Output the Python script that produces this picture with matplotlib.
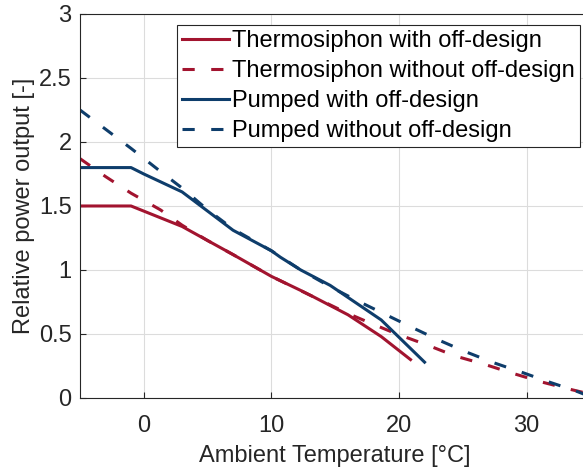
import matplotlib
matplotlib.use('Agg')
import matplotlib.pyplot as plt
import numpy as np

# ambient temperature [degC] and relative power output [-]
t_thermo_off = [-5, -1, 0, 3, 5, 7, 10, 12.3, 13.3, 16, 18.6, 20.9]
p_thermo_off = [1.5, 1.5, 1.46, 1.34, 1.23, 1.12, 0.95, 0.84, 0.79, 0.65, 0.48, 0.30]

t_thermo = [-5, -3, -1, 1.3, 3, 5, 7, 10, 13.3, 16, 17.5, 19.7, 22.2, 24.4, 26.7, 28.9, 31.1, 33.4, 35]
p_thermo = [1.87, 1.73, 1.60, 1.47, 1.35, 1.23, 1.12, 0.95, 0.79, 0.66, 0.596, 0.505, 0.414, 0.328, 0.263, 0.193, 0.127, 0.068, 0.03]

t_pump_off = [-5, -1, 0, 3, 7, 10, 10.7, 12.3, 14.6, 18.6, 22]
p_pump_off = [1.8, 1.8, 1.75, 1.61, 1.31, 1.15, 1.10, 1.0, 0.88, 0.61, 0.28]

t_pump = [-5, -3, -1, 1.3, 3, 5, 7, 10, 12.3, 14.6, 16.6, 21, 23.1, 25.2, 27.4, 29.7, 31.9, 33.8, 35]
p_pump = [2.25, 2.10, 1.95, 1.77, 1.64, 1.47, 1.32, 1.15, 1.0, 0.87, 0.766, 0.552, 0.453, 0.362, 0.276, 0.198, 0.12, 0.057, 0.01]

RED = '#A2142F'
BLUE = '#0E3D6B'
DASH = (4.0, 5.4)

plt.rcParams['font.family'] = ['Liberation Sans', 'DejaVu Sans']

fig = plt.figure(figsize=(5.83, 4.69), dpi=100)
ax = fig.add_axes([0.1372, 0.1514, 0.8756, 0.8188])

lw = 2.2
ax.plot(t_thermo_off, p_thermo_off, color=RED, lw=lw, label='Thermosiphon with off-design')
ax.plot(t_thermo, p_thermo, color=RED, lw=lw, dashes=DASH, label='Thermosiphon without off-design')
ax.plot(t_pump_off, p_pump_off, color=BLUE, lw=lw, label='Pumped with off-design')
ax.plot(t_pump, p_pump, color=BLUE, lw=lw, dashes=DASH, label='Pumped without off-design')

ax.set_xlim(-5, 35)
ax.set_ylim(0, 3)
ax.set_xticks([0, 10, 20, 30])
ax.set_yticks([0, 0.5, 1, 1.5, 2, 2.5, 3])
ax.set_yticklabels(['0', '0.5', '1', '1.5', '2', '2.5', '3'])
ax.grid(True, color='#dcdcdc', lw=0.8)
ax.set_axisbelow(True)
ax.tick_params(direction='in', labelsize=17, colors='#262626', length=4)
ax.tick_params(axis='x', pad=12)
ax.tick_params(axis='y', pad=6)
for sp in ax.spines.values():
    sp.set_color('#262626')
    sp.set_linewidth(0.8)

ax.set_xlabel('Ambient Temperature [°C]', fontsize=17, color='#262626', labelpad=6)
ax.set_ylabel('Relative power output [-]', fontsize=17, color='#262626', labelpad=3)

leg = ax.legend(loc='upper left', bbox_to_anchor=(0.190, 0.971), fontsize=17,
                frameon=True, fancybox=False, framealpha=1, edgecolor='#262626',
                handlelength=2.0, handletextpad=0.15, borderpad=0.2,
                labelspacing=0.34, borderaxespad=0)
leg.get_frame().set_linewidth(0.8)

fig.savefig('out.png', dpi=100)
